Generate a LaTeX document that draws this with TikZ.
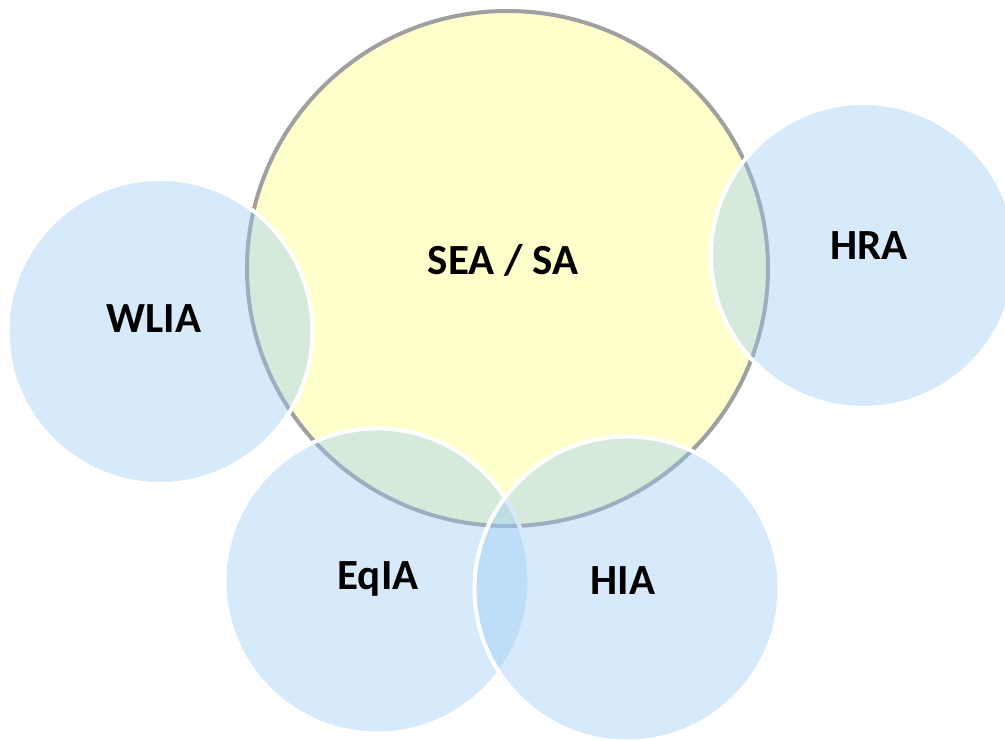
\documentclass[tikz,border=0pt]{standalone}
\usepackage{fontspec}
\setmainfont{Carlito}
\definecolor{seafill}{RGB}{255,255,204}
\definecolor{seaedge}{RGB}{160,160,160}
\definecolor{bluebase}{RGB}{150,201,247}
\tikzset{
  bigcirc/.style={fill=seafill, draw=seaedge, line width=4pt},
  smallcirc/.style={fill=bluebase, fill opacity=0.39, draw=white, draw opacity=1, line width=4pt},
  lbl/.style={font=\bfseries\fontsize{43}{50}\selectfont, text=black, inner sep=0pt}
}
\begin{document}
\begin{tikzpicture}[x=1pt,y=-1pt]
\useasboundingbox (0,0) rectangle (1005,740);
\clip (0,0) rectangle (1005,740);
\fill[white] (0,0) rectangle (1005,740);
\draw[bigcirc] (507.5,268.5) ellipse [x radius=260.5, y radius=257.5];
\draw[smallcirc] (160,331.5) circle [radius=152.5];
\draw[smallcirc] (863.5,255.5) circle [radius=152.5];
\draw[smallcirc] (377,581) circle [radius=152.5];
\draw[smallcirc] (627,589) circle [radius=152.5];
\node[lbl] (sea) at (503,260) {SEA / SA};
\node[lbl] (wlia) at (154,319) {WLIA};
\node[lbl] (hra) at (869,246) {HRA};
\node[lbl] (eqia) at (378,579) {EqIA};
\node[lbl] (hia) at (623,581) {HIA};
\end{tikzpicture}
\end{document}
